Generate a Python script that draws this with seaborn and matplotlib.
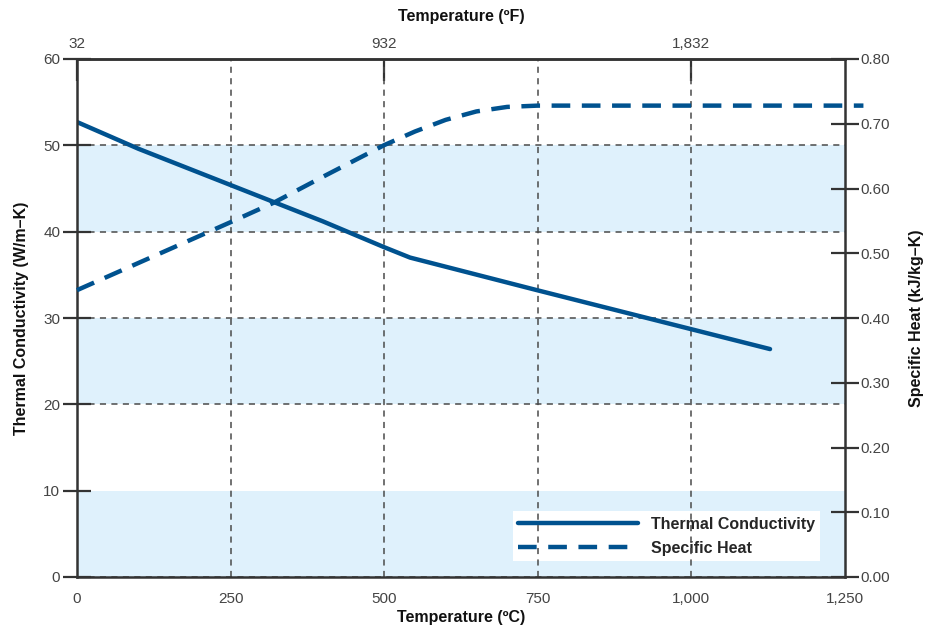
import matplotlib
matplotlib.use("Agg")
import matplotlib.pyplot as plt
import seaborn as sns
import pandas as pd
import numpy as np

# ---- data ----
tc_temp = [0, 100, 200, 300, 400, 500, 542, 750, 1000, 1128]
tc_vals = [52.7, 49.6, 46.8, 44.0, 41.2, 38.2, 37.0, 33.2, 28.7, 26.4]

sh_temp = [0, 100, 200, 250, 320, 400, 500, 550, 600, 650, 700, 750, 1280]
sh_vals = [0.443, 0.485, 0.527, 0.548, 0.578, 0.618, 0.667, 0.688, 0.706, 0.719, 0.726, 0.728, 0.728]

x_ticks = [0, 250, 500, 750, 1000, 1250]
x_tick_labels = ["0", "250", "500", "750", "1,000", "1,250"]
f_ticks = [32, 932, 1832]
f_tick_labels = ["32", "932", "1,832"]
left_ticks = [0, 10, 20, 30, 40, 50, 60]
right_ticks = [0.0, 0.1, 0.2, 0.3, 0.4, 0.5, 0.6, 0.7, 0.8]
band_starts = [0, 20, 40]

series_names = ["Thermal Conductivity", "Specific Heat"]

df_tc = pd.DataFrame({"temp": tc_temp, "val": tc_vals})
df_sh = pd.DataFrame({"temp": sh_temp, "val": sh_vals})

# ---- style ----
sns.set_style("white")
plt.rcParams['font.family'] = ['Liberation Sans', 'DejaVu Sans']

line_color = "#00528f"
band_color = "#dff1fc"
spine_color = "#333333"
grid_color = "#4a4a4a"
tick_color = "#444444"
label_kw = dict(fontsize=11.5, fontweight="bold", color="#111111")

fig = plt.figure(figsize=(9.28, 6.30), dpi=100)
ax = fig.add_axes([77/928, 1-577/630, 768/928, 518/630])

for b in band_starts:
    ax.axhspan(b, b + 10, color=band_color, lw=0, zorder=0)

sns.lineplot(data=df_tc, x="temp", y="val", ax=ax, color=line_color, lw=3.2,
             label=series_names[0], zorder=3, legend=False)

ax.set_xlim(0, 1250)
ax.set_ylim(0, 60)
ax.set_xticks(x_ticks)
ax.set_xticklabels(x_tick_labels)
ax.set_yticks(left_ticks)
ax.set_axisbelow(False)
ax.grid(True, which="major", color=grid_color, lw=1.1, linestyle=(0, (4, 3.5)), zorder=2.5)
for gl in ax.get_xgridlines():
    if gl.get_xdata()[0] in (0, 1250):
        gl.set_visible(False)
for gl in ax.get_ygridlines():
    if gl.get_ydata()[0] in (0, 60):
        gl.set_visible(False)

for s in ax.spines.values():
    s.set_color(spine_color)
    s.set_linewidth(1.8)
    s.set_zorder(4)

ax.tick_params(axis="x", direction="in", length=15, width=1.6, color=spine_color,
               labelsize=11, labelcolor=tick_color, pad=11)
ax.tick_params(axis="y", direction="inout", length=20, width=1.6, color=spine_color,
               labelsize=11, labelcolor=tick_color, pad=2)
ax.set_xlabel("Temperature (ºC)", labelpad=3, **label_kw)
ax.set_ylabel("Thermal Conductivity (W/m–K)", labelpad=10, **label_kw)

# right axis
ax2 = ax.twinx()
sns.lineplot(data=df_sh, x="temp", y="val", ax=ax2, color=line_color, lw=3.2,
             label=series_names[1], legend=False)
ax2.lines[0].set_linestyle((0, (4.2, 2.6)))
ax2.lines[0].set_clip_on(False)
ax2.set_ylim(0, 0.8)
ax2.set_yticks(right_ticks)
ax2.set_yticklabels([f"{v:.2f}" for v in right_ticks])
ax2.set_xlim(0, 1250)
for s in ax2.spines.values():
    s.set_visible(False)
ax2.tick_params(axis="y", direction="inout", length=20, width=1.6, color=spine_color,
                labelsize=11, labelcolor=tick_color, pad=1)
ax2.set_ylabel("Specific Heat (kJ/kg–K)", labelpad=14, rotation=90, **label_kw)

# top axis (Fahrenheit)
top = ax.secondary_xaxis("top", functions=(lambda c: np.asarray(c) * 9 / 5 + 32,
                                            lambda f: (np.asarray(f) - 32) * 5 / 9))
top.set_xticks(f_ticks)
top.set_xticklabels(f_tick_labels)
top.spines["top"].set_color(spine_color)
top.spines["top"].set_linewidth(1.8)
top.tick_params(axis="x", direction="in", length=16, width=1.6, color=spine_color,
                labelsize=11, labelcolor=tick_color, pad=6)
top.set_xlabel("Temperature (ºF)", labelpad=11, **label_kw)

# legend
handles = [ax.lines[0], ax2.lines[0]]
leg = ax.legend(handles, series_names, loc="lower right", bbox_to_anchor=(0.968, 0.03),
                frameon=True, fancybox=False, framealpha=1, edgecolor="none",
                facecolor="white", handlelength=7.5, borderpad=0.35, labelspacing=0.55,
                handletextpad=0.8, borderaxespad=0,
                prop={"weight": "bold", "size": 11.5})
leg.set_zorder(1)

fig.savefig("out.png", dpi=100)
